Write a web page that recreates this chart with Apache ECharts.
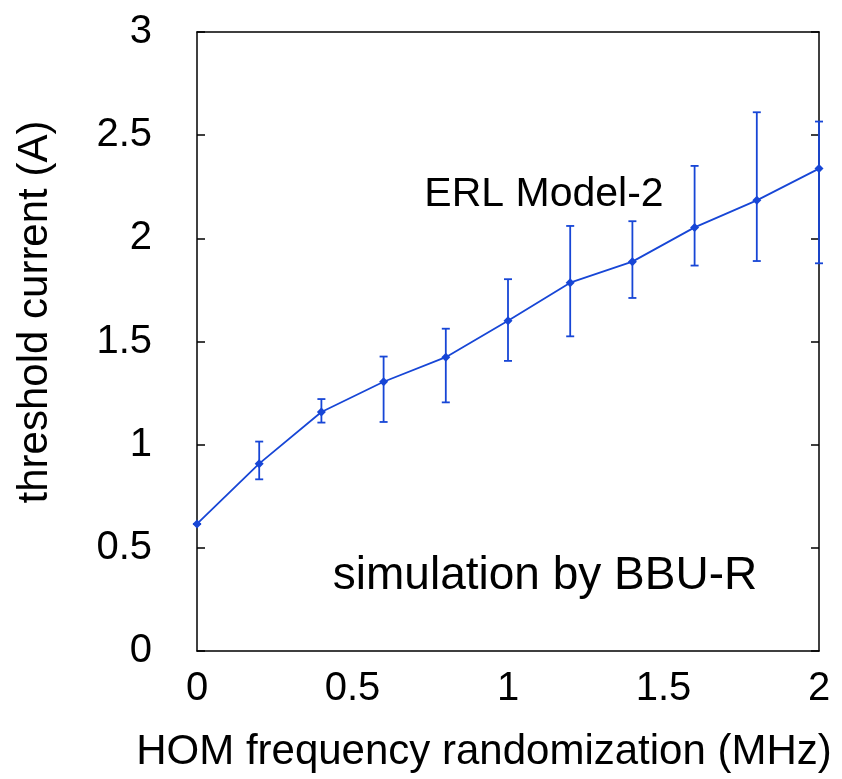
<!DOCTYPE html>
<html>
<head>
<meta charset="utf-8">
<script src="https://cdn.jsdelivr.net/npm/echarts@6/dist/echarts.min.js"></script>
<style>html,body{margin:0;padding:0;background:#fff}#c{width:842px;height:779px}</style>
</head>
<body>
<div id="c"></div>
<script>
const xValues = [0, 0.2, 0.4, 0.6, 0.8, 1.0, 1.2, 1.4, 1.6, 1.8, 2.0];
const thresholdMean = [0.616, 0.908, 1.158, 1.305, 1.424, 1.601, 1.785, 1.887, 2.053, 2.184, 2.338];
const errLow = [0.616, 0.832, 1.107, 1.110, 1.205, 1.406, 1.525, 1.711, 1.868, 1.890, 1.879];
const errHigh = [0.616, 1.015, 1.221, 1.427, 1.562, 1.802, 2.060, 2.083, 2.351, 2.611, 2.566];
const xTickLabels = ['0', '0.5', '1', '1.5', '2'];
const yTickLabels = ['0', '0.5', '1', '1.5', '2', '2.5', '3'];
const xTitle = 'HOM frequency randomization (MHz)';
const yTitle = 'threshold current (A)';

const BLUE = '#1746d6';
const FONT = '"Liberation Sans", Arial, sans-serif';

const meanData = xValues.map((x, i) => [x, thresholdMean[i]]);
const errData = xValues.map((x, i) => [x, errLow[i], errHigh[i]]);

const chart = echarts.init(document.getElementById('c'), null, {renderer: 'canvas'});
chart.setOption({
  animation: false,
  backgroundColor: '#fff',
  textStyle: {fontFamily: FONT},
  grid: {left: 197, right: 23, top: 32, bottom: 128, containLabel: false, outerBoundsMode: 'none'},
  xAxis: [{
    type: 'value', min: 0, max: 2, interval: 0.5, position: 'bottom',
    axisLine: {show: true, onZero: false, lineStyle: {color: '#000', width: 1.5}},
    axisTick: {show: false},
    splitLine: {show: false},
    axisLabel: {
      fontSize: 40, color: '#000', margin: 18, fontFamily: FONT,
      formatter: v => xTickLabels[Math.round(v / 0.5)]
    }
  }, {
    type: 'value', min: 0, max: 2, interval: 0.5, position: 'top',
    axisLine: {show: true, onZero: false, lineStyle: {color: '#000', width: 1.5}},
    axisTick: {show: false}, axisLabel: {show: false}, splitLine: {show: false}
  }],
  yAxis: [{
    type: 'value', min: 0, max: 3, interval: 0.5, position: 'left',
    axisLine: {show: true, onZero: false, lineStyle: {color: '#000', width: 1.5}},
    axisTick: {show: true, inside: true, length: 8, lineStyle: {color: '#000', width: 1.5}},
    splitLine: {show: false},
    axisLabel: {
      fontSize: 40, color: '#000', margin: 45, fontFamily: FONT,
      formatter: v => yTickLabels[Math.round(v / 0.5)]
    }
  }, {
    type: 'value', min: 0, max: 3, interval: 0.5, position: 'right',
    axisLine: {show: true, onZero: false, lineStyle: {color: '#000', width: 1.5}},
    axisTick: {show: true, inside: true, length: 8, lineStyle: {color: '#000', width: 1.5}},
    axisLabel: {show: false}, splitLine: {show: false}
  }],
  graphic: [
    {type: 'text', x: 484, y: 752, style: {text: xTitle, fontSize: 42, fontFamily: FONT, fill: '#000', align: 'center', verticalAlign: 'middle'}},
    {type: 'text', x: 35, y: 312, rotation: Math.PI / 2, style: {text: yTitle, fontSize: 42, fontFamily: FONT, fill: '#000', align: 'center', verticalAlign: 'middle'}},
    {type: 'text', x: 544, y: 195, style: {text: 'ERL Model-2', fontSize: 41, fontFamily: FONT, fill: '#000', align: 'center', verticalAlign: 'middle'}},
    {type: 'text', x: 545, y: 576, style: {text: 'simulation by BBU-R', fontSize: 46, fontFamily: FONT, fill: '#000', align: 'center', verticalAlign: 'middle'}}
  ],
  series: [{
    type: 'custom',
    xAxisIndex: 0, yAxisIndex: 0,
    data: errData,
    z: 3,
    clip: false,
    renderItem: function (params, api) {
      const x = api.value(0);
      const lo = api.coord([x, api.value(1)]);
      const hi = api.coord([x, api.value(2)]);
      const cap = 4;
      const style = {stroke: BLUE, lineWidth: 1.8};
      return {
        type: 'group',
        children: [
          {type: 'line', shape: {x1: lo[0], y1: lo[1], x2: hi[0], y2: hi[1]}, style: style},
          {type: 'line', shape: {x1: lo[0] - cap, y1: lo[1], x2: lo[0] + cap, y2: lo[1]}, style: style},
          {type: 'line', shape: {x1: hi[0] - cap, y1: hi[1], x2: hi[0] + cap, y2: hi[1]}, style: style}
        ]
      };
    }
  }, {
    type: 'line',
    xAxisIndex: 0, yAxisIndex: 0,
    data: meanData,
    z: 4,
    symbol: 'diamond', symbolSize: 9,
    showAllSymbol: true,
    lineStyle: {color: BLUE, width: 1.8},
    itemStyle: {color: BLUE}
  }]
});
</script>
</body>
</html>
